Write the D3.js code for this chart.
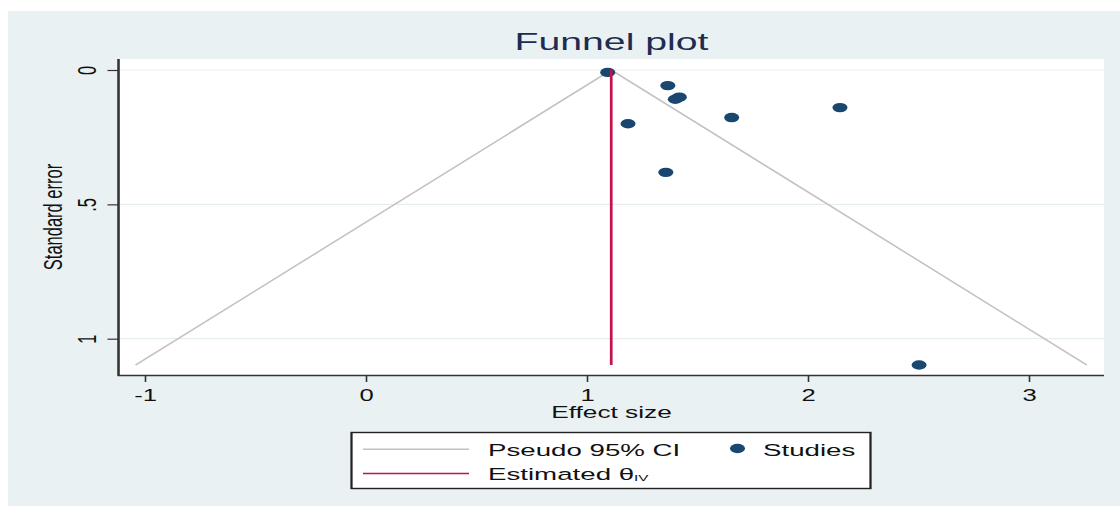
<!DOCTYPE html>
<html>
<head>
<meta charset="utf-8">
<script src="https://cdn.jsdelivr.net/npm/d3@7"></script>
<style>
  html, body { margin: 0; padding: 0; background: #ffffff; }
  svg { display: block; }
  text { font-family: "Liberation Sans", Arial, Helvetica, sans-serif; }
</style>
</head>
<body>
<div id="chart"></div>
<script>
// Study-level effect sizes and their standard errors
const effectSize = [1.095, 1.367, 1.401, 1.419, 1.187, 1.656, 2.146, 1.358, 2.504];
const standardError = [0.009, 0.058, 0.109, 0.101, 0.200, 0.177, 0.140, 0.381, 1.098];

// Pooled inverse-variance estimate
const thetaIV = 1.111;

// Axis ticks
const xTicks = [-1, 0, 1, 2, 3];
const xTickLabels = ["-1", "0", "1", "2", "3"];
const yTicks = [0, 0.5, 1];
const yTickLabels = ["0", ".5", "1"];

// Legend entries
const legendLabels = ["Pseudo 95% CI", "Studies", "Estimated θ", "IV"];

// The drawing is laid out in a horizontally condensed coordinate space
// and stretched to the full page width.
const W = 1120, H = 506, SX = 1.6;
const lx = v => v / SX;          // page x -> drawing x

const svg = d3.select("#chart").append("svg")
  .attr("width", W).attr("height", H)
  .attr("viewBox", `0 0 ${W / SX} ${H}`)
  .attr("preserveAspectRatio", "none");

// Outer background
svg.append("rect")
  .attr("x", lx(8)).attr("y", 11)
  .attr("width", lx(W - 8)).attr("height", H - 11)
  .attr("fill", "#e9f1f3");

// Plot region
const plot = { left: lx(119), right: lx(1104), top: 59, bottom: 375 };
svg.append("rect")
  .attr("x", plot.left).attr("y", plot.top)
  .attr("width", plot.right - plot.left).attr("height", plot.bottom - plot.top)
  .attr("fill", "#ffffff");

const x = d3.scaleLinear().domain([-1, 3]).range([lx(144.7), lx(1028.7)]);
const y = d3.scaleLinear().domain([0, 1]).range([70, 338.7]);

// Horizontal grid lines
svg.append("g").selectAll("line").data(yTicks).join("line")
  .attr("x1", plot.left).attr("x2", plot.right)
  .attr("y1", d => y(d)).attr("y2", d => y(d))
  .attr("stroke", "#e6eef1").attr("stroke-width", 1.2);

// Title
svg.append("text")
  .attr("x", (plot.left + plot.right) / 2).attr("y", 50)
  .attr("text-anchor", "middle")
  .attr("font-size", 24.5).attr("fill", "#1d2c4f")
  .text("Funnel plot");

// Y axis
const yAxisG = svg.append("g").attr("transform", `translate(${plot.left - 0.3},0)`)
  .call(d3.axisLeft(y).tickValues(yTicks)
    .tickFormat((d, i) => yTickLabels[i])
    .tickSize(lx(11)).tickSizeOuter(0));
yAxisG.select(".domain").remove();
yAxisG.selectAll(".tick line").attr("stroke", "#333333").attr("stroke-width", 1.2);
yAxisG.selectAll(".tick text")
  .attr("x", null).attr("dy", null)
  .attr("transform", `translate(${lx(96) - (plot.left - 0.3)},0) rotate(-90)`)
  .attr("text-anchor", "middle")
  .attr("font-size", 16.5).attr("fill", "#111111");

// X axis
const xAxisG = svg.append("g").attr("transform", `translate(0,${plot.bottom})`)
  .call(d3.axisBottom(x).tickValues(xTicks)
    .tickFormat((d, i) => xTickLabels[i])
    .tickSize(7).tickSizeOuter(0));
xAxisG.select(".domain").remove();
xAxisG.selectAll(".tick line").attr("stroke", "#333333").attr("stroke-width", 1);
xAxisG.selectAll(".tick text")
  .attr("y", 26).attr("dy", null)
  .attr("text-anchor", "middle")
  .attr("font-size", 16).attr("fill", "#111111");

// Axis lines
svg.append("line")
  .attr("x1", plot.left - 0.3).attr("x2", plot.left - 0.3)
  .attr("y1", plot.top).attr("y2", plot.bottom + 0.8)
  .attr("stroke", "#333333").attr("stroke-width", 1.6);
svg.append("line")
  .attr("x1", plot.left - 0.8).attr("x2", plot.right)
  .attr("y1", plot.bottom + 0.5).attr("y2", plot.bottom + 0.5)
  .attr("stroke", "#333333").attr("stroke-width", 1.6);

// Axis titles
svg.append("text")
  .attr("transform", `translate(${lx(62)},${(plot.top + plot.bottom) / 2}) rotate(-90)`)
  .attr("text-anchor", "middle")
  .attr("font-size", 16.5).attr("fill", "#111111")
  .text("Standard error");
svg.append("text")
  .attr("x", (plot.left + plot.right) / 2).attr("y", 418)
  .attr("text-anchor", "middle")
  .attr("font-size", 16.4).attr("fill", "#111111")
  .text("Effect size");

// Pseudo 95% confidence limits
const seMax = d3.max(standardError);
const funnel = [
  [thetaIV - 1.96 * seMax, seMax],
  [thetaIV, 0],
  [thetaIV + 1.96 * seMax, seMax]
];
svg.append("path")
  .datum(funnel)
  .attr("d", d3.line().x(d => x(d[0])).y(d => y(d[1])))
  .attr("fill", "none").attr("stroke", "#c2c2c2").attr("stroke-width", 1.3);

// Studies
svg.append("g").selectAll("circle").data(effectSize).join("circle")
  .attr("cx", d => x(d))
  .attr("cy", (d, i) => y(standardError[i]))
  .attr("r", 4.7)
  .attr("fill", "#1a476f");

// Estimated effect line
svg.append("line")
  .attr("x1", x(thetaIV)).attr("x2", x(thetaIV))
  .attr("y1", y(0)).attr("y2", y(seMax))
  .attr("stroke", "#c4124a").attr("stroke-width", 1.7);

// Legend
const lg = svg.append("g");
lg.append("rect")
  .attr("x", lx(351.5)).attr("y", 432.5)
  .attr("width", lx(870.5 - 351.5)).attr("height", 56)
  .attr("fill", "#ffffff").attr("stroke", "#222222").attr("stroke-width", 1.4);
lg.append("line")
  .attr("x1", lx(363)).attr("x2", lx(469))
  .attr("y1", 449.3).attr("y2", 449.3)
  .attr("stroke", "#c2c2c2").attr("stroke-width", 1.4);
lg.append("line")
  .attr("x1", lx(363)).attr("x2", lx(469))
  .attr("y1", 473.5).attr("y2", 473.5)
  .attr("stroke", "#c4124a").attr("stroke-width", 1.4);
lg.append("circle")
  .attr("cx", lx(737.5)).attr("cy", 448.5).attr("r", 4.7)
  .attr("fill", "#1a476f");
lg.append("text")
  .attr("x", lx(488)).attr("y", 456)
  .attr("font-size", 17.3).attr("fill", "#111111")
  .text(legendLabels[0]);
lg.append("text")
  .attr("x", lx(763)).attr("y", 456)
  .attr("font-size", 17.3).attr("fill", "#111111")
  .text(legendLabels[1]);
const est = lg.append("text")
  .attr("x", lx(488)).attr("y", 480)
  .attr("font-size", 17.3).attr("fill", "#111111");
est.append("tspan").text(legendLabels[2]);
est.append("tspan").attr("font-size", 9.5).attr("dy", 1).text(legendLabels[3]);
</script>
</body>
</html>
